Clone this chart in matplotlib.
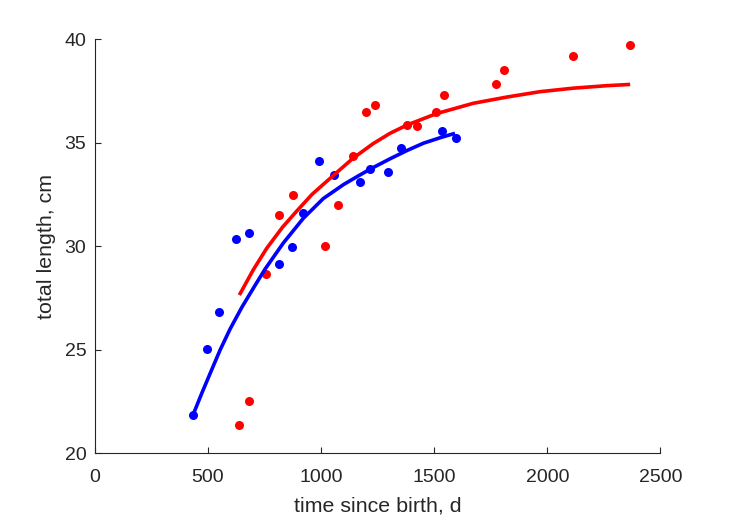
import numpy as np
import matplotlib.pyplot as plt

plt.rcParams['font.family'] = ['Liberation Sans', 'DejaVu Sans']

# observed data (blue group)
t_blue = [436, 498, 551, 623, 683, 813, 873, 919, 991, 1056, 1174, 1218, 1296, 1354, 1536, 1597]
L_blue = [21.85, 25.02, 26.84, 30.33, 30.63, 29.14, 29.96, 31.60, 34.10, 33.43, 33.08, 33.74,
          33.57, 34.72, 35.56, 35.21]

# observed data (red group)
t_red = [639, 683, 757, 813, 875, 1019, 1074, 1142, 1199, 1238, 1380, 1426, 1510, 1543,
         1771, 1810, 2115, 2366]
L_red = [21.37, 22.52, 28.66, 31.49, 32.48, 30.01, 31.99, 34.34, 36.48, 36.80, 35.83, 35.80,
         36.49, 37.31, 37.83, 38.49, 39.18, 39.70]

# fitted curves
fit_t_blue = [436, 473, 510, 554, 598, 650, 708, 753, 833, 922, 1010, 1100, 1158, 1217,
              1305, 1380, 1452, 1530, 1592]
fit_L_blue = [21.90, 22.90, 23.86, 24.99, 26.00, 27.05, 28.10, 28.90, 30.15, 31.35, 32.30,
              32.98, 33.35, 33.72, 34.22, 34.62, 34.97, 35.25, 35.45]

fit_t_red = [639, 700, 760, 830, 893, 960, 1058, 1142, 1230, 1305, 1380, 1510, 1673, 1821,
             1968, 2115, 2263, 2366]
fit_L_red = [27.64, 28.85, 29.90, 30.92, 31.70, 32.50, 33.45, 34.25, 34.95, 35.45, 35.85,
             36.40, 36.90, 37.20, 37.46, 37.63, 37.75, 37.81]

txt = '#262626'

fig = plt.figure(figsize=(7.29, 5.21), dpi=100)
ax = fig.add_axes([0.13, 0.13, 0.776, 0.795])

ax.plot(t_blue, L_blue, 'o', color='b', markersize=6.5, markeredgewidth=0)
ax.plot(t_red, L_red, 'o', color='r', markersize=6.5, markeredgewidth=0)
ax.plot(fit_t_blue, fit_L_blue, '-', color='b', linewidth=2.6, solid_capstyle='butt',
        solid_joinstyle='round')
ax.plot(fit_t_red, fit_L_red, '-', color='r', linewidth=2.6, solid_capstyle='butt',
        solid_joinstyle='round')

ax.set_xlim(0, 2500)
ax.set_ylim(20, 40)
ax.set_xticks(np.arange(0, 2501, 500))
ax.set_yticks(np.arange(20, 41, 5))

ax.spines['top'].set_visible(False)
ax.spines['right'].set_visible(False)
for s in ['left', 'bottom']:
    ax.spines[s].set_color(txt)
    ax.spines[s].set_linewidth(0.8)
ax.tick_params(direction='in', length=4, width=0.8, colors=txt, labelsize=14)
ax.tick_params(axis='x', pad=11)
ax.tick_params(axis='y', pad=6)

ax.set_xlabel('time since birth, d', fontsize=15.4, color=txt, labelpad=8)
ax.set_ylabel('total length, cm', fontsize=15.4, color=txt, labelpad=6)

fig.savefig('out.png', dpi=100)
